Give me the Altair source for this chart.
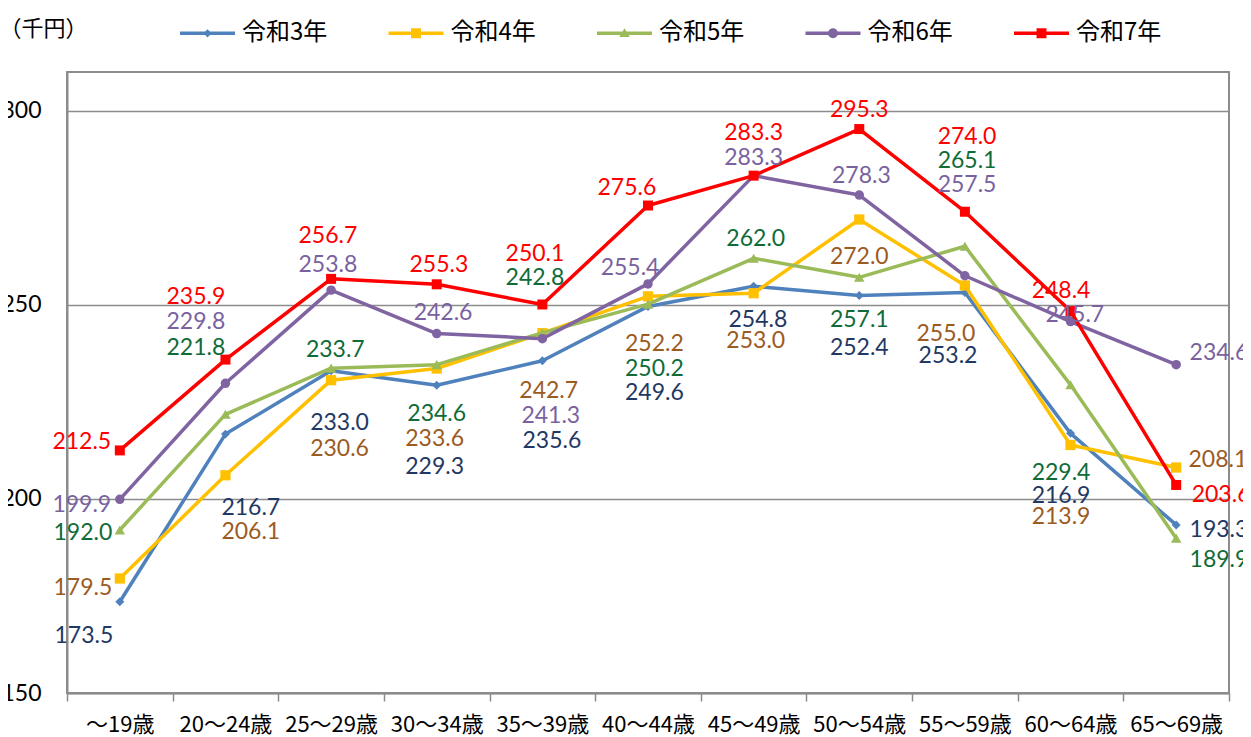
import altair as alt
import pandas as pd

categories = ["～19歳", "20～24歳", "25～29歳", "30～34歳", "35～39歳", "40～44歳",
              "45～49歳", "50～54歳", "55～59歳", "60～64歳", "65～69歳"]
series = ["令和3年", "令和4年", "令和5年", "令和6年", "令和7年"]

r3 = [173.5, 216.7, 233.0, 229.3, 235.6, 249.6, 254.8, 252.4, 253.2, 216.9, 193.3]
r4 = [179.5, 206.1, 230.6, 233.6, 242.7, 252.2, 253.0, 272.0, 255.0, 213.9, 208.1]
r5 = [192.0, 221.8, 233.7, 234.6, 242.8, 250.2, 262.0, 257.1, 265.1, 229.4, 189.9]
r6 = [199.9, 229.8, 253.8, 242.6, 241.3, 255.4, 283.3, 278.3, 257.5, 245.7, 234.6]
r7 = [212.5, 235.9, 256.7, 255.3, 250.1, 275.6, 283.3, 295.3, 274.0, 248.4, 203.6]
values = [r3, r4, r5, r6, r7]

# data-label anchors (category offset, value units), as placed in the original
lab_dx = [
    [-0.34, 0.24, 0.08, -0.02, 0.09, 0.06, 0.04, 0.0, -0.16, -0.09, 0.405],
    [-0.35, 0.24, 0.08, -0.02, 0.06, 0.06, 0.02, 0.0, -0.18, -0.09, 0.395],
    [-0.35, -0.28, 0.04, 0.0, -0.07, 0.06, 0.02, 0.0, 0.02, -0.09, 0.405],
    [-0.36, -0.28, -0.03, 0.06, 0.08, -0.17, 0.0, 0.02, 0.02, 0.04, 0.405],
    [-0.36, -0.28, -0.03, 0.02, -0.07, -0.20, 0.0, 0.0, 0.02, -0.09, 0.425],
]
lab_y = [
    [164.7, 197.6, 219.5, 208.2, 214.8, 227.2, 246.2, 238.8, 236.7, 200.7, 191.9],
    [177.0, 191.4, 212.8, 215.4, 227.7, 239.8, 240.8, 262.4, 242.6, 195.3, 210.0],
    [191.2, 238.8, 238.3, 222.0, 256.8, 233.4, 267.1, 246.0, 287.1, 206.6, 184.2],
    [198.4, 245.5, 260.4, 247.8, 221.3, 259.4, 287.9, 283.3, 281.0, 247.3, 237.5],
    [214.6, 252.1, 267.8, 260.4, 263.0, 280.2, 294.3, 300.3, 293.3, 253.7, 201.0],
]

line_colors = ["#4F81BD", "#FFC000", "#9BBB59", "#8064A2", "#FF0000"]
label_colors = ["#1F3864", "#9C5B1F", "#0F6B38", "#7A62A0", "#FF0000"]
marker_shapes = ["diamond", "square", "triangle-up", "circle", "square"]
marker_sizes = [80, 105, 110, 90, 100]

bar = "M-1,-0.065L1,-0.065L1,0.065L-1,0.065Z"
legend_paths = [
    bar + "M0,-0.15L0.15,0L0,0.15L-0.15,0Z",
    bar + "M-0.18,-0.18L0.18,-0.18L0.18,0.18L-0.18,0.18Z",
    bar + "M0,-0.18L0.19,0.14L-0.19,0.14Z",
    bar + "M-0.18,0A0.18,0.18,0,1,1,0.18,0A0.18,0.18,0,1,1,-0.18,0Z",
    bar + "M-0.18,-0.18L0.18,-0.18L0.18,0.18L-0.18,0.18Z",
]

rows = []
for s, name in enumerate(series):
    for i, cat in enumerate(categories):
        rows.append({
            "series": name, "cat": cat, "idx": i, "value": values[s][i],
            "dx": lab_dx[s][i], "ly": lab_y[s][i],
            "label": f"{values[s][i]:.1f}",
        })
df = pd.DataFrame(rows)

GRAY = "#8C8C8C"
num_font = "Lato"
cjk_font = "Noto Sans CJK JP"

yscale = alt.Scale(domain=[150, 310], nice=False, zero=False)
xband = alt.Scale(type="band", domain=categories, paddingInner=0, paddingOuter=0)

x_axis = alt.Axis(title=None, tickBand="extent", ticks=True, tickSize=8, tickColor=GRAY,
                  tickWidth=1.5, domainColor=GRAY, domainWidth=2, labelFont=cjk_font,
                  labelFontSize=22, labelColor="#000000", labelPadding=13, labelAngle=0,
                  grid=False)
y_axis = alt.Axis(values=[150, 200, 250, 300], title="（千円）", titleAngle=0,
                  titleAlign="left", titleBaseline="middle", titleX=-68, titleY=-44,
                  titleFont=cjk_font, titleFontSize=22, titleFontWeight="normal",
                  titleColor="#000000", grid=True, gridColor=GRAY, gridWidth=1.5,
                  domainColor=GRAY, domainWidth=2, ticks=False, labelPadding=26,
                  labelFont=num_font, labelFontSize=23, labelColor="#000000")

base = alt.Chart(df)
X = alt.X("cat:N", sort=categories, scale=xband, axis=x_axis)
Y = alt.Y("value:Q", scale=yscale, axis=y_axis)

series_layers = []
for s, name in enumerate(series):
    sub = base.transform_filter(alt.datum.series == name)
    series_layers.append(
        sub.mark_line(strokeWidth=3.5, strokeJoin="round", strokeCap="round",
                      color=line_colors[s]).encode(x=X, y=Y, order="idx:Q")
    )
    series_layers.append(
        sub.mark_point(filled=True, opacity=1, shape=marker_shapes[s],
                       size=marker_sizes[s], color=line_colors[s]).encode(x=X, y=Y)
    )

label_layers = []
for s, name in enumerate(series):
    label_layers.append(
        base.transform_filter(alt.datum.series == name)
        .mark_text(font=num_font, fontSize=23, align="center", baseline="middle",
                   color=label_colors[s])
        .encode(
            x=X,
            xOffset=alt.XOffset("dx:Q", scale=alt.Scale(domain=[-0.5, 0.5], nice=False, zero=False)),
            y=alt.Y("ly:Q", scale=yscale, axis=y_axis),
            text="label:N",
        )
    )

leg = alt.Legend(title=None, orient="none", legendX=113, legendY=-66.5, direction="horizontal",
                 columns=5, symbolSize=3025, symbolOpacity=1, symbolStrokeWidth=0,
                 labelFont=cjk_font, labelFontSize=24, labelColor="#000000", labelOffset=7,
                 columnPadding=60.5, padding=0, labelLimit=200)
legend_layer = base.mark_point(filled=True, opacity=0).encode(
    x=X, y=Y,
    color=alt.Color("series:N", scale=alt.Scale(domain=series, range=line_colors), legend=leg),
    shape=alt.Shape("series:N", scale=alt.Scale(domain=series, range=legend_paths), legend=leg),
)

chart = alt.layer(*series_layers, *label_layers, legend_layer).properties(
    width=1162, height=621,
    autosize=alt.AutoSizeParams(type="none"),
    padding={"left": 59, "top": 64, "right": 14, "bottom": 44},
    background="white",
).configure_view(stroke=GRAY, strokeWidth=2)

chart.save("out.html", embed_options={"renderer": "svg", "actions": False})
